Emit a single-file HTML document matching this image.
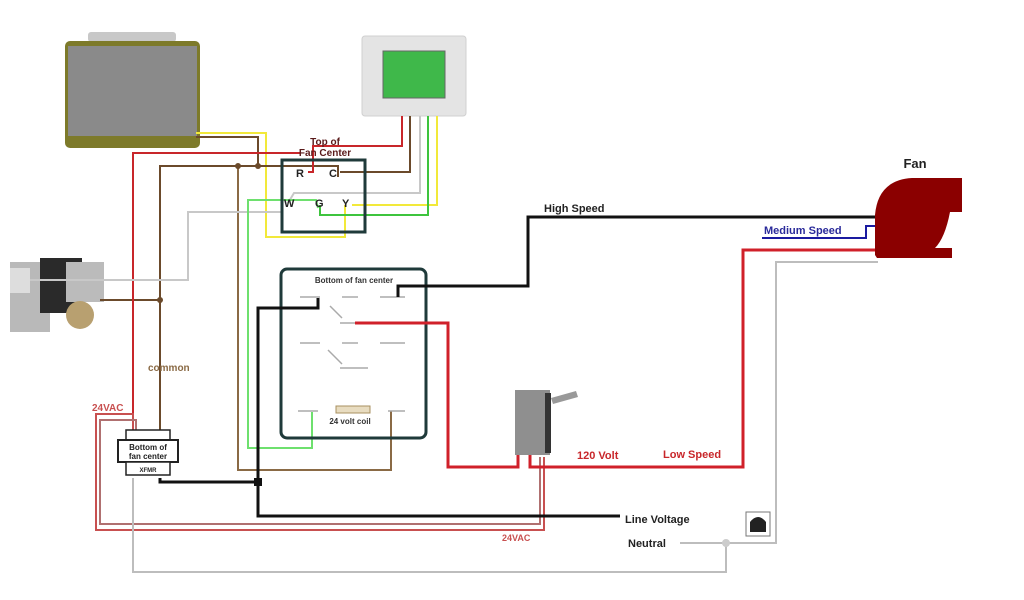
<!DOCTYPE html>
<html><head><meta charset="utf-8"><style>
html,body{margin:0;padding:0;background:#fff;width:1024px;height:600px;overflow:hidden}
svg{display:block}
text{font-family:"Liberation Sans",sans-serif;font-weight:bold}
</style></head><body>
<svg width="1024" height="600" viewBox="0 0 1024 600" xmlns="http://www.w3.org/2000/svg">
<rect width="1024" height="600" fill="#fff"/>
<!-- air handler box -->
<rect x="88" y="32" width="88" height="10" rx="3" fill="#c8c8c8"/>
<rect x="65" y="41" width="135" height="107" rx="5" fill="#7d7a2a"/>
<rect x="68" y="46" width="129" height="90" fill="#8a8a8a"/>
<!-- thermostat -->
<rect x="362" y="36" width="104" height="80" rx="3" fill="#e4e4e4" stroke="#d0d0d0"/>
<rect x="383" y="51" width="62" height="47" fill="#3fb84a" stroke="#666"/>
<!-- gas valve -->
<rect x="10" y="262" width="40" height="70" fill="#b9b9b9"/>
<rect x="40" y="258" width="42" height="55" fill="#2a2a2a"/>
<rect x="66" y="262" width="38" height="40" fill="#bbb"/>
<circle cx="80" cy="315" r="14" fill="#b8a070"/>
<rect x="10" y="268" width="20" height="25" fill="#ddd"/>
<!-- wires -->
<g fill="none" stroke-width="2">
<!-- yellow -->
<polyline points="196,133 266,133 266,237 345,237 345,205" stroke="#f2e93a"/>
<polyline points="352,205 437,205 437,116" stroke="#f2e93a"/>
<!-- brown -->
<polyline points="196,137 258,137 258,166" stroke="#6b4a2b"/>
<polyline points="160,300 160,166 338,166 338,177" stroke="#6b4a2b"/>
<polyline points="340,172 410,172 410,116" stroke="#6b4a2b"/>
<polyline points="238,166 238,470 391,470 391,411" stroke="#8a6a45"/>
<polyline points="160,300 160,432" stroke="#6b4a2b"/>
<polyline points="100,300 160,300" stroke="#6b4a2b"/>
<!-- red thin -->
<polyline points="300,153 133,153 133,432" stroke="#c8262a"/>
<polyline points="308,172 313,172 313,146 402,146 402,116" stroke="#c8262a"/>
<!-- white/gray -->
<polyline points="288,203 294,193 420,193 420,116" stroke="#c8c8c8"/>
<polyline points="283,212 188,212 188,280 30,280" stroke="#c8c8c8"/>
<!-- green -->
<polyline points="320,205 320,215 428,215 428,116" stroke="#3ec43e"/>
<polyline points="318,208 316,200 248,200 248,448 312,448 312,412" stroke="#6ee06e"/>
<!-- 24VAC red pair -->
<polyline points="133,432 133,414 96,414 96,530 544,530 544,457" stroke="#c85050"/>
<polyline points="136,432 136,420 100,420 100,524 540,524 540,457" stroke="#b07070"/>
<!-- gray neutral -->
<polyline points="133,478 133,572 726,572 726,543" stroke="#bdbdbd"/>
<polyline points="680,543 776,543 776,262 878,262" stroke="#bdbdbd"/>
</g>
<circle cx="726" cy="543" r="4" fill="#ccc"/>
<circle cx="238" cy="166" r="3" fill="#6b4a2b"/><circle cx="258" cy="166" r="3" fill="#6b4a2b"/><circle cx="160" cy="300" r="3" fill="#6b4a2b"/>
<!-- top of fan center -->
<rect x="282" y="160" width="83" height="72" fill="none" stroke="#1f3a3a" stroke-width="3"/>
<text x="325" y="145" font-size="10" fill="#5a1a1a" text-anchor="middle">Top of</text>
<text x="325" y="156" font-size="10" fill="#5a1a1a" text-anchor="middle">Fan Center</text>
<text x="296" y="177" font-size="11" fill="#222">R</text>
<text x="329" y="177" font-size="11" fill="#222">C</text>
<text x="284" y="207" font-size="11" fill="#222">W</text>
<text x="315" y="207" font-size="11" fill="#222">G</text>
<text x="342" y="207" font-size="11" fill="#222">Y</text>
<!-- bottom of fan center -->
<rect x="281" y="269" width="145" height="169" rx="6" fill="none" stroke="#1f3a3a" stroke-width="3"/>
<text x="354" y="283" font-size="8" fill="#333" text-anchor="middle">Bottom of fan center</text>
<g stroke="#aaa" stroke-width="1.5">
<line x1="300" y1="297" x2="320" y2="297"/><line x1="342" y1="297" x2="358" y2="297"/><line x1="380" y1="297" x2="405" y2="297"/>
<line x1="330" y1="306" x2="342" y2="318"/>
<line x1="340" y1="323" x2="368" y2="323"/>
<line x1="300" y1="343" x2="320" y2="343"/><line x1="342" y1="343" x2="358" y2="343"/><line x1="380" y1="343" x2="405" y2="343"/>
<line x1="328" y1="350" x2="342" y2="364"/>
<line x1="340" y1="368" x2="368" y2="368"/>
<line x1="298" y1="411" x2="318" y2="411"/><line x1="388" y1="411" x2="405" y2="411"/>
</g>
<rect x="336" y="406" width="34" height="7" fill="#e8dcc0" stroke="#a89060"/>
<text x="350" y="424" font-size="8" fill="#333" text-anchor="middle">24 volt coil</text>
<!-- black wires -->
<g fill="none" stroke="#111" stroke-width="3">
<polyline points="398,297 398,286 528,286 528,217 882,217"/>
<polyline points="318,298 318,308 258,308 258,516 620,516"/>
<polyline points="160,478 160,482 258,482"/>
</g>
<rect x="254" y="478" width="8" height="8" fill="#111"/>
<!-- red thick -->
<g fill="none" stroke="#d0202a" stroke-width="3">
<polyline points="355,323 448,323 448,467 518,467 518,455"/>
<polyline points="530,455 530,467 743,467 743,250 880,250"/>
</g>
<!-- blue medium -->
<polyline points="762,238 866,238 866,226 880,226" fill="none" stroke="#1a1aa0" stroke-width="2"/>
<!-- relay -->
<rect x="515" y="390" width="35" height="65" fill="#8f8f8f"/>
<rect x="545" y="393" width="6" height="60" fill="#333"/>
<polygon points="551,398 576,391 578,397 553,404" fill="#999"/>
<!-- XFMR -->
<rect x="126" y="430" width="44" height="10" fill="#fff" stroke="#222" stroke-width="1.5"/>
<rect x="118" y="440" width="60" height="22" fill="#fff" stroke="#222" stroke-width="2"/>
<rect x="126" y="462" width="44" height="13" fill="#fff" stroke="#222" stroke-width="1.5"/>
<text x="148" y="450" font-size="8" fill="#222" text-anchor="middle">Bottom of</text>
<text x="148" y="459" font-size="8" fill="#222" text-anchor="middle">fan center</text>
<text x="148" y="472" font-size="6" fill="#222" text-anchor="middle">XFMR</text>
<!-- fan -->
<path d="M875,255 L875,215 Q878,180 912,178 L962,178 L962,212 L950,212 Q945,238 935,248 L952,248 L952,258 L877,258 Z" fill="#8b0000"/>
<text x="915" y="168" font-size="13" fill="#222" text-anchor="middle">Fan</text>
<!-- labels -->
<text x="544" y="212" font-size="11" fill="#222">High Speed</text>
<text x="764" y="234" font-size="11" fill="#2a2a9a">Medium Speed</text>
<text x="577" y="459" font-size="11" fill="#c8262a">120 Volt</text>
<text x="663" y="458" font-size="11" fill="#c8262a">Low Speed</text>
<text x="625" y="523" font-size="11" fill="#222">Line Voltage</text>
<text x="628" y="547" font-size="11" fill="#222">Neutral</text>
<text x="502" y="541" font-size="9" fill="#c85050" font-weight="normal">24VAC</text>
<text x="148" y="371" font-size="10" fill="#8a6a45">common</text>
<text x="92" y="411" font-size="10" fill="#c85050" font-weight="normal">24VAC</text>
<!-- small icon -->
<rect x="746" y="512" width="24" height="24" fill="#fff" stroke="#777"/>
<path d="M750,532 L750,522 Q758,512 766,522 L766,532 Z" fill="#222"/>
</svg>
</body></html>
